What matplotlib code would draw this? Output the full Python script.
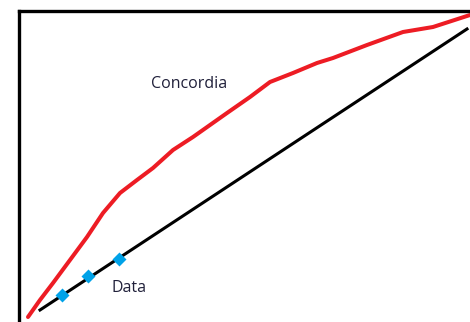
import matplotlib.pyplot as plt
import numpy as np

# concordia curve (hand-drawn look), x/y in sketch units
concordia_x = [9, 21, 34, 51, 68, 84, 101, 118, 134, 154, 174, 208, 231, 251, 274, 298, 314, 348, 384, 414, 451]
concordia_y = [5, 22, 39, 62, 85, 109, 129, 142, 154, 172, 185, 209, 225, 240, 249, 259, 264, 277, 290, 295, 307]

# discordia line through the data
line_x = [21, 448]
line_y = [12, 293]

# data points
data_x = [43, 69, 100]
data_y = [27, 46, 63]

fig = plt.figure(figsize=(4.7, 3.22), dpi=100)
ax = fig.add_axes([19 / 470, 0, 451 / 470, 311 / 322])

ax.plot(concordia_x, concordia_y, color='#ed1c24', lw=2.9, solid_capstyle='round',
        solid_joinstyle='round')
ax.plot(line_x, line_y, color='black', lw=2.2)
ax.plot(data_x, data_y, 'D', color='#00a2e8', ms=7, mec='none')

ax.text(170, 238, 'Concordia', fontsize=11.5, family='Open Sans', color='#20203a',
        ha='center', va='center')
ax.text(110, 34, 'Data', fontsize=11.5, family='Open Sans', color='#20203a',
        ha='center', va='center')

ax.set_xlim(0, 451)
ax.set_ylim(0, 311)
ax.set_xticks([])
ax.set_yticks([])
for s in ['right', 'bottom']:
    ax.spines[s].set_visible(False)
for s in ['left', 'top']:
    ax.spines[s].set_linewidth(2.4)

plt.savefig('out.png', dpi=100)
